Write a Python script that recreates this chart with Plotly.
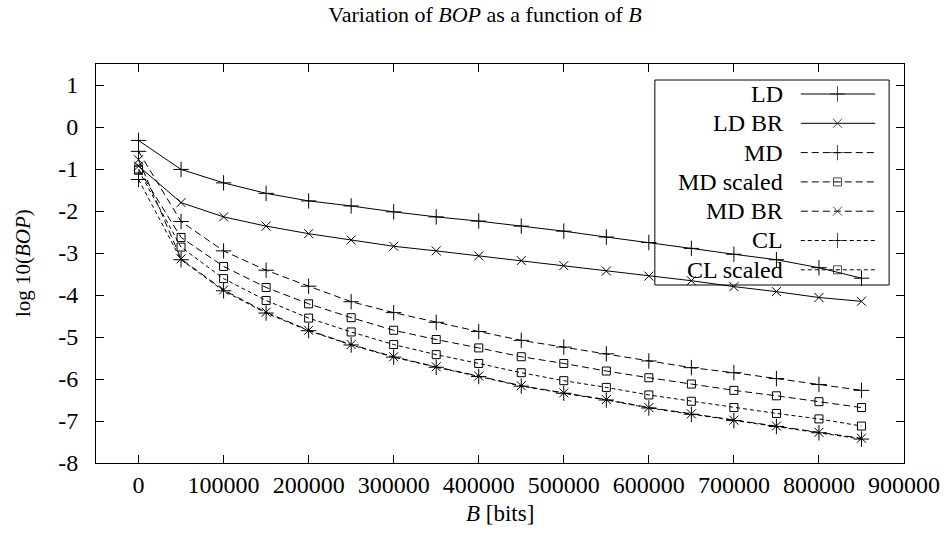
import plotly.graph_objects as go

# ---------------- data ----------------
B_bits = [0, 50000, 100000, 150000, 200000, 250000, 300000, 350000, 400000,
          450000, 500000, 550000, 600000, 650000, 700000, 750000, 800000, 850000]

LD = [-0.32, -1.01, -1.33, -1.58, -1.76, -1.88, -2.02, -2.14, -2.24,
      -2.36, -2.48, -2.62, -2.75, -2.89, -3.03, -3.16, -3.35, -3.60]
LD_BR = [-0.93, -1.80, -2.14, -2.36, -2.54, -2.69, -2.84, -2.95, -3.07,
         -3.18, -3.30, -3.43, -3.55, -3.66, -3.80, -3.92, -4.06, -4.15]
MD = [-0.58, -2.25, -2.95, -3.41, -3.79, -4.16, -4.42, -4.65, -4.87,
      -5.08, -5.24, -5.40, -5.57, -5.73, -5.85, -5.99, -6.13, -6.27]
MD_scaled = [-1.00, -2.63, -3.32, -3.82, -4.21, -4.54, -4.84, -5.06, -5.26,
             -5.47, -5.63, -5.81, -5.97, -6.12, -6.27, -6.40, -6.54, -6.68]
MD_BR = [-0.78, -3.14, -3.88, -4.41, -4.84, -5.18, -5.47, -5.71, -5.93,
         -6.16, -6.33, -6.49, -6.68, -6.83, -6.98, -7.12, -7.27, -7.41]
CL = [-1.25, -3.16, -3.90, -4.43, -4.85, -5.19, -5.48, -5.72, -5.94,
      -6.17, -6.34, -6.50, -6.69, -6.84, -6.99, -7.13, -7.28, -7.43]
CL_scaled = [-1.03, -2.86, -3.61, -4.13, -4.55, -4.88, -5.18, -5.42, -5.63,
             -5.85, -6.04, -6.20, -6.38, -6.53, -6.68, -6.82, -6.95, -7.12]

series_names = ["LD", "LD BR", "MD", "MD scaled", "MD BR", "CL", "CL scaled"]
series_values = [LD, LD_BR, MD, MD_scaled, MD_BR, CL, CL_scaled]

x_tick_vals = [0, 100000, 200000, 300000, 400000, 500000, 600000, 700000, 800000, 900000]
x_tick_text = ["0", "100000", "200000", "300000", "400000", "500000",
               "600000", "700000", "800000", "900000"]
y_tick_vals = [-8, -7, -6, -5, -4, -3, -2, -1, 0, 1]
y_tick_text = ["-8", "-7", "-6", "-5", "-4", "-3", "-2", "-1", "0", "1"]

# ---------------- styles ----------------
FONT = "Liberation Serif"
LONG_DASH = "7px,4px"
SHORT_DASH = "4px,3px"
styles = {
    "LD":        dict(dash="solid",    symbol="cross-thin", size=11),
    "LD BR":     dict(dash="solid",    symbol="x-thin",     size=9),
    "MD":        dict(dash=LONG_DASH,  symbol="cross-thin", size=11),
    "MD scaled": dict(dash=LONG_DASH,  symbol="square-open", size=8),
    "MD BR":     dict(dash=LONG_DASH,  symbol="x-thin",     size=9),
    "CL":        dict(dash=SHORT_DASH, symbol="cross-thin", size=11),
    "CL scaled": dict(dash=SHORT_DASH, symbol="square-open", size=8),
}

W, H = 952, 549
L, R, T, BOT = 96, 910, 64, 463
PW, PH = R - L, BOT - T


def px(xp):
    return (xp - L) / PW


def py(yp):
    return (BOT - yp) / PH


fig = go.Figure()

for name, vals in zip(series_names, series_values):
    st = styles[name]
    fig.add_trace(go.Scatter(
        x=B_bits, y=vals, mode="lines+markers", name=name, showlegend=False,
        line=dict(color="black", width=1, dash=st["dash"]),
        marker=dict(symbol=st["symbol"], size=st["size"], color="black",
                    line=dict(color="black", width=1)),
    ))

# ---------------- gnuplot-like key ----------------
shapes = []
annotations = []
key_x0, key_x1, key_y0, key_y1 = 659, 895, 80, 285
shapes.append(dict(type="rect", xref="paper", yref="paper",
                   x0=px(key_x0), x1=px(key_x1), y0=py(key_y1), y1=py(key_y0),
                   line=dict(color="black", width=1), fillcolor="rgba(0,0,0,0)",
                   layer="above"))
row0, row_step = 94, 29.3
text_right, samp_x0, samp_x1, samp_mid = 790, 806, 881, 843
mk_x, mk_y, mk_sym, mk_size = [], [], [], []
for i, name in enumerate(series_names):
    st = styles[name]
    yy = row0 + i * row_step
    annotations.append(dict(xref="paper", yref="paper", x=px(text_right), y=py(yy),
                            xanchor="right", yanchor="middle", showarrow=False,
                            text=name, font=dict(family=FONT, size=24, color="black")))
    shapes.append(dict(type="line", xref="paper", yref="paper",
                       x0=px(samp_x0), x1=px(samp_x1), y0=py(yy), y1=py(yy),
                       line=dict(color="black", width=1, dash=st["dash"]), layer="above"))
    mk_x.append(px(samp_mid))
    mk_y.append(py(yy))
    mk_sym.append(st["symbol"])
    mk_size.append(st["size"])

fig.add_trace(go.Scatter(
    x=mk_x, y=mk_y, xaxis="x2", yaxis="y2", mode="markers", showlegend=False,
    hoverinfo="skip",
    marker=dict(symbol=mk_sym, size=mk_size, color="black",
                line=dict(color="black", width=1)),
))

# axis titles
annotations.append(dict(xref="paper", yref="paper", x=0.5, y=py(513),
                        xanchor="center", yanchor="middle", showarrow=False,
                        text="<i>B</i> [bits]", font=dict(family=FONT, size=23, color="black")))
annotations.append(dict(xref="paper", yref="paper", x=px(22), y=0.5,
                        xanchor="center", yanchor="middle", showarrow=False, textangle=-90,
                        text="log 10(<i>BOP</i>)", font=dict(family=FONT, size=21, color="black")))

axis_common = dict(showgrid=False, zeroline=False, showline=True, linecolor="black",
                   linewidth=1, mirror="allticks", ticks="inside", ticklen=8,
                   tickwidth=1, tickcolor="black",
                   tickfont=dict(family=FONT, size=24, color="black"))

fig.update_layout(
    width=W, height=H,
    margin=dict(l=L, r=W - R, t=T, b=H - BOT, pad=0),
    paper_bgcolor="white", plot_bgcolor="white",
    showlegend=False,
    title=dict(text="Variation of <i>BOP</i> as a function of <i>B</i>",
               x=485 / W, xanchor="center", xref="container",
               y=1 - 14 / H, yanchor="middle", yref="container",
               font=dict(family=FONT, size=22, color="black")),
    xaxis=dict(range=[-50000, 900000], tickvals=x_tick_vals, ticktext=x_tick_text,
               ticklabelstandoff=0, **axis_common),
    yaxis=dict(range=[-8, 1.5], tickvals=y_tick_vals, ticktext=y_tick_text,
               ticklabelstandoff=12, **axis_common),
    xaxis2=dict(overlaying="x", range=[0, 1], visible=False, anchor="y2"),
    yaxis2=dict(overlaying="y", range=[0, 1], visible=False, anchor="x2"),
    shapes=shapes,
    annotations=annotations,
)

# remove the browser's default body margin so the figure sits at the window origin
fig.write_html("out.html",
               config={"displayModeBar": False},
               post_script="document.body.style.margin='0';document.body.style.overflow='hidden';")
